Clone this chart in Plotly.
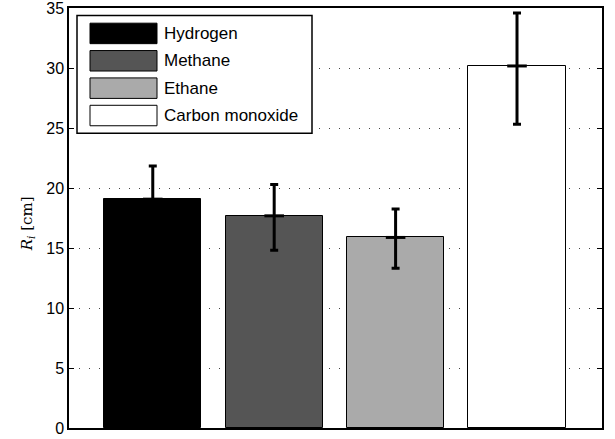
import plotly.graph_objects as go

# ---- data ----
gases = ["Hydrogen", "Methane", "Ethane", "Carbon monoxide"]
positions = [1, 2, 3, 4]
radius_cm = [19.07, 17.68, 15.88, 30.17]
err_plus = [2.77, 2.61, 2.36, 4.41]
err_minus = [2.85, 2.86, 2.56, 4.85]
bar_colors = ["#000000", "#555555", "#aaaaaa", "#ffffff"]
y_ticks = [0, 5, 10, 15, 20, 25, 30, 35]

# ---- geometry (pixels of the 615x439 canvas) ----
FIG_W, FIG_H = 615, 439
L, R, T, B = 69, 602, 7.5, 428
PW, PH = R - L, B - T


def px_x(x):
    return (x - L) / PW


def px_y(y):
    return (B - y) / PH


fig = go.Figure()

fig.add_trace(go.Bar(
    x=positions, y=radius_cm, width=0.8,
    marker=dict(color=bar_colors, line=dict(color="#000000", width=1)),
    showlegend=False, hoverinfo="y",
))

fig.add_trace(go.Scatter(
    x=positions, y=radius_cm, mode="markers",
    marker=dict(symbol="line-ew-open", size=14, color="#000000",
                line=dict(color="#000000", width=3)),
    error_y=dict(type="data", symmetric=False, array=err_plus,
                 arrayminus=err_minus, color="#000000", thickness=3, width=4),
    showlegend=False, hoverinfo="skip",
))

shapes = []
annotations = []

# legend box
shapes.append(dict(type="rect", xref="paper", yref="paper",
                   x0=px_x(77), x1=px_x(312), y0=px_y(133), y1=px_y(15),
                   line=dict(color="#000000", width=1.5),
                   fillcolor="#ffffff", layer="above"))
row_top = 22.7
row_pitch = 27.4
sw_h = 20.5
for i, (name, col) in enumerate(zip(gases, bar_colors)):
    y0 = row_top + i * row_pitch
    shapes.append(dict(type="rect", xref="paper", yref="paper",
                       x0=px_x(90), x1=px_x(157),
                       y0=px_y(y0 + sw_h), y1=px_y(y0),
                       line=dict(color="#000000", width=1),
                       fillcolor=col, layer="above"))
    annotations.append(dict(xref="paper", yref="paper",
                            x=px_x(162), y=px_y(y0 + sw_h / 2),
                            text=name, showarrow=False,
                            xanchor="left", yanchor="middle",
                            font=dict(family="Liberation Sans, Arial", size=17,
                                      color="#000000")))

# y axis label
annotations.append(dict(xref="paper", yref="paper",
                        x=px_x(27), y=px_y(224),
                        text="<i>R</i><sub><i>i</i></sub> [cm]",
                        textangle=-90, showarrow=False,
                        xanchor="center", yanchor="middle",
                        font=dict(family="DejaVu Serif, Liberation Serif, serif",
                                  size=15, color="#000000")))

fig.update_layout(
    width=FIG_W, height=FIG_H,
    margin=dict(l=L, r=FIG_W - R, t=T, b=FIG_H - B, pad=0, autoexpand=False),
    paper_bgcolor="#ffffff", plot_bgcolor="#ffffff",
    shapes=shapes, annotations=annotations,
    bargap=0,
    showlegend=False,
)

fig.update_xaxes(
    range=[0.31, 4.70], showticklabels=False, ticks="",
    showgrid=False, zeroline=False, automargin=False,
    showline=True, linecolor="#000000", linewidth=1.5, mirror=True,
)
fig.update_yaxes(
    range=[0, 35], tickvals=y_ticks, ticktext=[str(v) for v in y_ticks],
    ticks="inside", ticklen=5, tickwidth=1, tickcolor="#000000",
    tickfont=dict(family="Liberation Sans, Arial", size=16, color="#000000"),
    ticklabeloverflow="allow",
    showgrid=True, gridcolor="#444444", gridwidth=1, griddash="1px,9px",
    zeroline=False, automargin=False,
    showline=True, linecolor="#000000", linewidth=1.5, mirror="ticks",
)

fig.write_html(
    "out.html",
    config={"displayModeBar": False},
    post_script="document.body.style.margin='0';document.body.style.padding='0';",
)
